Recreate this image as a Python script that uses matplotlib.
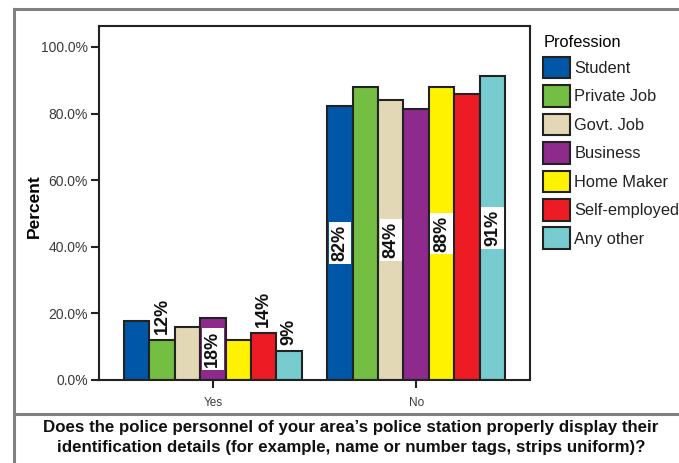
import numpy as np
import matplotlib
matplotlib.use('Agg')
from matplotlib import pyplot as plt
from matplotlib.patches import Patch
from matplotlib.lines import Line2D

plt.rcParams['font.family'] = ['Liberation Sans', 'DejaVu Sans']

# datos
categorias = ['Yes', 'No']
profesiones = ['Student', 'Private Job', 'Govt. Job', 'Business', 'Home Maker', 'Self-employed', 'Any other']
colores = ['#0057A8', '#74BE44', '#E3D8B5', '#8E2A8C', '#FFF200', '#ED1C24', '#77CCCF']
valores_yes = [17.8, 12.0, 16.0, 18.6, 12.0, 14.0, 8.6]
valores_no = [82.2, 88.0, 84.0, 81.4, 88.0, 86.0, 91.4]
etiquetas_yes = [None, '12%', None, '18%', None, '14%', '9%']
etiquetas_no = ['82%', None, '84%', None, '88%', None, '91%']
pregunta = ("Does the police personnel of your area\u2019s police station properly display their\n"
            "identification details (for example, name or number tags, strips uniform)?")

fig = plt.figure(figsize=(6.79, 4.63), dpi=100)
ax = fig.add_axes([0.1458, 0.1793, 0.6348, 0.7645])

ancho = 0.125
oscuro = '#222222'
valores = [valores_yes, valores_no]
etiquetas = [etiquetas_yes, etiquetas_no]

for j in range(len(profesiones)):
    xs = np.arange(len(categorias)) + (j - 3) * ancho
    alturas = [valores[0][j], valores[1][j]]
    ax.bar(xs, alturas, width=ancho, color=colores[j], edgecolor=oscuro, linewidth=1.5, zorder=2)
    for i in range(len(categorias)):
        txt = etiquetas[i][j]
        if txt is None:
            continue
        h = alturas[i]
        if h > 15:
            # etiqueta dentro de la barra con caja blanca
            ax.text(xs[i], h / 2, txt, rotation=90, ha='center', va='center',
                    fontsize=13, fontweight='bold', color='#111111', zorder=3,
                    bbox=dict(boxstyle='square,pad=0.15', facecolor='white', edgecolor='none'))
        else:
            ax.text(xs[i], h + 1.8, txt, rotation=90, ha='center', va='bottom',
                    fontsize=13, fontweight='bold', color='#111111', zorder=3)

ax.set_xlim(-0.56, 1.56)
ax.set_ylim(0, 106.3)
ax.set_yticks([0, 20, 40, 60, 80, 100])
ax.set_yticklabels(['%.1f%%' % v for v in [0, 20, 40, 60, 80, 100]], fontsize=10, color='#3a3a3a')
ax.set_xticks(range(len(categorias)))
ax.set_xticklabels(categorias, fontsize=8.5, color='#3a3a3a')
ax.tick_params(axis='both', length=6, width=1.5, color=oscuro)
ax.tick_params(axis='y', pad=2)
ax.tick_params(axis='x', pad=6)
for s in ax.spines.values():
    s.set_linewidth(1.5)
    s.set_color(oscuro)
ax.set_ylabel('Percent', fontsize=12.5, fontweight='bold', labelpad=0)
ax.yaxis.set_label_coords(-0.133, 0.49)

# leyenda
handles = [Patch(facecolor=c, edgecolor=oscuro, linewidth=1.5) for c in colores]
leg = fig.legend(handles, profesiones, loc='upper left', bbox_to_anchor=(0.800, 0.925),
                 frameon=False, fontsize=11.8, title='Profession', title_fontsize=11.8,
                 handlelength=1.65, handleheight=1.65, handletextpad=0.25,
                 labelspacing=0.42, borderpad=0, borderaxespad=0, alignment='left')
for t in leg.get_texts():
    t.set_color('#222222')

# pregunta
fig.text(0.517, 0.055, pregunta, ha='center', va='center', fontsize=12.2,
         fontweight='bold', color='#111111', linespacing=1.45)

# marco gris
gris = '#808080'
fig.add_artist(Line2D([0.0199, 1.0], [0.9795, 0.9795], color=gris, linewidth=2.2))
fig.add_artist(Line2D([0.0199, 0.0199], [0.0, 0.9795], color=gris, linewidth=2.2))
fig.add_artist(Line2D([0.0199, 1.0], [0.1048, 0.1048], color=gris, linewidth=2.2))

fig.savefig('out.png', dpi=100)
